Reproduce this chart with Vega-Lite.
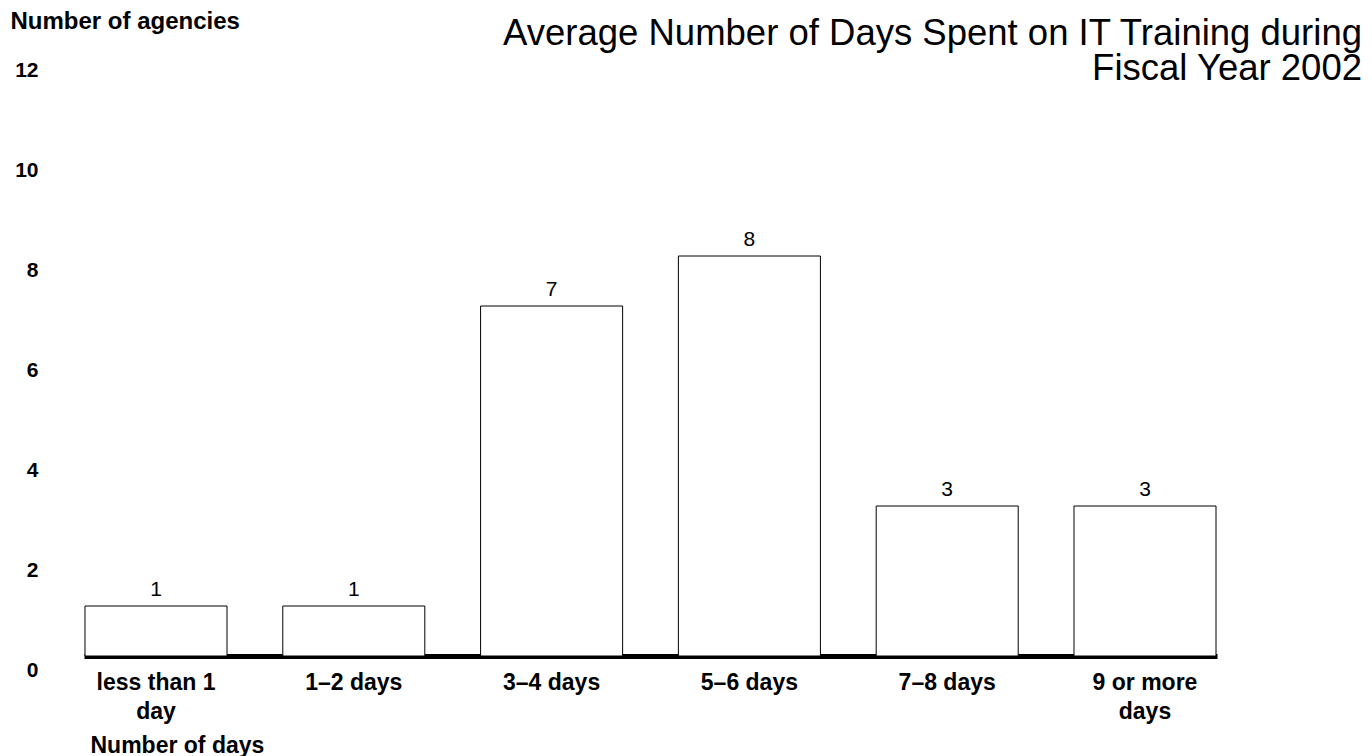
{
  "$schema": "https://vega.github.io/schema/vega-lite/v6.json",
  "autosize": {"type": "none"},
  "padding": {"left": 84, "top": 56, "right": 155, "bottom": 100},
  "width": 1133,
  "height": 600,
  "background": "white",
  "config": {
    "font": "Liberation Sans",
    "view": {"stroke": null}
  },
  "title": {
    "text": ["Average Number of Days Spent on IT Training during", "Fiscal Year 2002"],
    "anchor": "end",
    "dx": 145,
    "offset": -78,
    "fontSize": 36.5,
    "fontWeight": "normal",
    "lineHeight": 35,
    "font": "Liberation Sans",
    "color": "black"
  },
  "data": {
    "values": [
      {"days": "less than 1 day", "agencies": 1},
      {"days": "1–2 days", "agencies": 1},
      {"days": "3–4 days", "agencies": 7},
      {"days": "5–6 days", "agencies": 8},
      {"days": "7–8 days", "agencies": 3},
      {"days": "9 or more days", "agencies": 3}
    ]
  },
  "encoding": {
    "x": {
      "field": "days",
      "type": "nominal",
      "sort": null,
      "scale": {"paddingInner": 0.282, "paddingOuter": 0.005},
      "axis": {
        "title": "Number of days",
        "titleFont": "Liberation Sans",
        "titleFontSize": 23,
        "titleFontWeight": "bold",
        "titleColor": "black",
        "titleAnchor": "start",
        "titleAlign": "left",
        "titleBaseline": "alphabetic",
        "titleX": 6,
        "titleY": 96,
        "labelAngle": 0,
        "labelFont": "Liberation Sans",
        "labelFontSize": 23,
        "labelFontWeight": "bold",
        "labelColor": "black",
        "labelPadding": 15,
        "labelLineHeight": 29,
        "labelExpr": "datum.value == 'less than 1 day' ? ['less than 1', 'day'] : datum.value == '9 or more days' ? ['9 or more', 'days'] : datum.value",
        "ticks": false,
        "domainColor": "black",
        "domainWidth": 5,
        "grid": false
      }
    },
    "y": {
      "field": "agencies",
      "type": "quantitative",
      "scale": {"domain": [0, 12], "nice": false},
      "axis": {
        "title": "Number of agencies",
        "titleFont": "Liberation Sans",
        "titleFontSize": 24,
        "titleFontWeight": "bold",
        "titleColor": "black",
        "titleAngle": 0,
        "titleAlign": "left",
        "titleBaseline": "alphabetic",
        "titleX": -74,
        "titleY": -28,
        "values": [0, 2, 4, 6, 8, 10, 12],
        "labelFont": "Liberation Sans",
        "labelFontSize": 21,
        "labelFontWeight": "bold",
        "labelColor": "black",
        "labelAlign": "right",
        "labelPadding": 46,
        "labelOffset": 14,
        "ticks": false,
        "tickSize": 0,
        "domain": false,
        "grid": false
      }
    }
  },
  "layer": [
    {
      "mark": {"type": "bar", "fill": "white", "stroke": "black", "strokeWidth": 1}
    },
    {
      "mark": {"type": "text", "fontSize": 21, "font": "Liberation Sans", "color": "black", "baseline": "alphabetic", "dy": -10},
      "encoding": {"text": {"field": "agencies", "type": "quantitative"}}
    }
  ]
}
